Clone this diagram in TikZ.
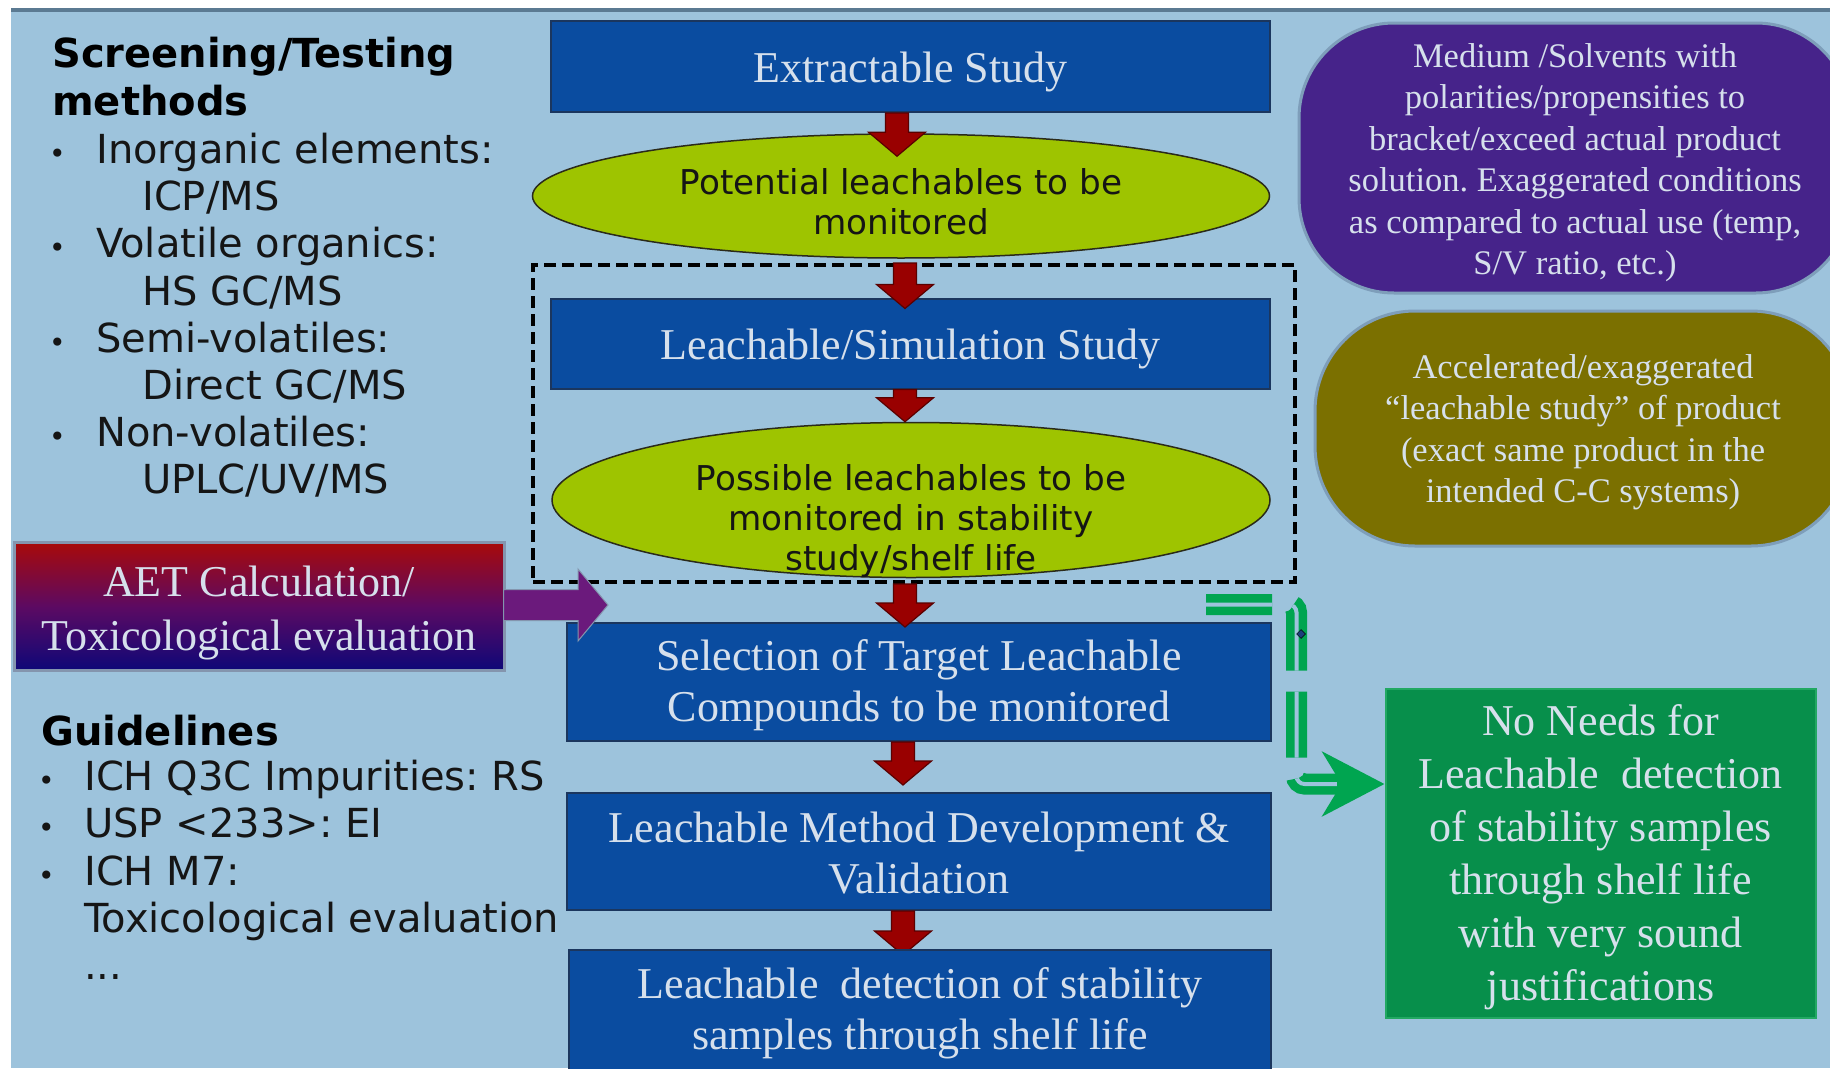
\documentclass[tikz,border=0pt]{standalone}
\usepackage{fontspec}
\usetikzlibrary{shapes.geometric,arrows.meta,calc}
\newfontfamily\serifL{Liberation Serif}
\newfontfamily\sansD{DejaVu Sans}
\definecolor{bg}{HTML}{9DC3DC}
\definecolor{topline}{HTML}{5B7A92}
\definecolor{boxblue}{HTML}{0A4CA0}
\definecolor{boxedge}{HTML}{1B365E}
\definecolor{ellfill}{HTML}{9EC400}
\definecolor{elledge}{HTML}{2A2A1A}
\definecolor{arrred}{HTML}{990000}
\definecolor{arrdark}{HTML}{5A0000}
\definecolor{purpleR}{HTML}{46238A}
\definecolor{oliveR}{HTML}{7B7000}
\definecolor{roundedge}{HTML}{7E9EBA}
\definecolor{greenbox}{HTML}{078F4B}
\definecolor{greenedge}{HTML}{22A862}
\definecolor{gline}{HTML}{00A550}
\definecolor{textlight}{HTML}{D6E0EC}
\definecolor{ink}{HTML}{151515}
\definecolor{aetR}{HTML}{A80A0A}
\definecolor{aetM}{HTML}{5C0A62}
\definecolor{aetB}{HTML}{0E0878}
\definecolor{aetarr}{HTML}{6B1A7C}
\definecolor{aetedge}{HTML}{8495AE}
\definecolor{dotblue}{HTML}{1C3F7A}
\tikzset{
  bluebox/.style={rectangle, fill=boxblue, draw=boxedge, line width=2pt, inner sep=0pt},
  boxtext/.style={inner sep=0pt, text=textlight, align=center, font=\serifL\fontsize{44}{51}\selectfont},
  ellbox/.style={ellipse, fill=ellfill, draw=elledge, line width=1.5pt, inner sep=0pt},
  elltext/.style={inner sep=0pt, align=center, text=ink, font=\sansD\fontsize{34.2}{40}\selectfont},
  roundbox/.style={rectangle, draw=roundedge, line width=3pt, inner sep=0pt},
  roundtext/.style={inner sep=0pt, text=textlight, align=center, font=\serifL\fontsize{34.5}{41.5}\selectfont},
  sanstext/.style={inner sep=0pt, anchor=base west, text=ink, font=\sansD\fontsize{40}{47}\selectfont},
  sansbold/.style={inner sep=0pt, anchor=base west, text=black, font=\sansD\bfseries\fontsize{40}{47}\selectfont},
  redarr/.style={fill=arrred, draw=arrdark, line width=1.2pt},
  purparr/.style={fill=aetarr, draw=aetedge, line width=1pt},
  dashframe/.style={rectangle, draw=black, line width=4pt, dash pattern=on 12pt off 6pt, inner sep=0pt},
  gconn/.style={draw=gline, double=bg, double distance=4pt, line width=8.5pt, dash pattern=on 66pt off 21pt, rounded corners=8pt},
}
\newcommand\varr[2]{\path[redarr] let \p1=(#1), \p2=(#2) in
  (\x1-11.5pt,\y1) -- (\x1+11.5pt,\y1) -- (\x1+11.5pt,\y2+24pt) -- (\x1+28.5pt,\y2+24pt)
  -- (\x1,\y2) -- (\x1-28.5pt,\y2+24pt) -- (\x1-11.5pt,\y2+24pt) -- cycle;}
\newcommand\harr[2]{\path[purparr] let \p1=(#1), \p2=(#2) in
  (\x1,\y2+15.5pt) -- (\x2-30pt,\y2+15.5pt) -- (\x2-30pt,\y2+36pt) -- (\x2,\y2)
  -- (\x2-30pt,\y2-36pt) -- (\x2-30pt,\y2-15.5pt) -- (\x1,\y2-15.5pt) -- cycle;}
\begin{document}
\frenchspacing
\begin{tikzpicture}[x=1pt,y=-1pt]
\useasboundingbox (0,0) rectangle (1830,1068);
\fill[bg] (0,0) rectangle (1830,1068);
\fill[white] (0,0) rectangle (1830,8);
\fill[white] (0,0) rectangle (11,1068);
\fill[topline] (11,8) rectangle (1830,12);

% central flow
\node[bluebox, minimum width=719pt, minimum height=91pt] (box1) at (910.5,66.5) {};
\node[boxtext] (box1t) at ([yshift=-5pt]box1.center) {Extractable Study};
\node[ellbox, minimum width=737pt, minimum height=124pt] (ell1) at (901,196) {};
\node[elltext] (ell1t) at (901,202) {Potential leachables to be\\monitored};
\node[bluebox, minimum width=719pt, minimum height=90pt] (box2) at (910.5,343.5) {};
\node[boxtext] (box2t) at ([yshift=-5pt]box2.center) {Leachable/Simulation Study};
\node[ellbox, minimum width=718pt, minimum height=155pt] (ell2) at (911,500) {};
\node[elltext] (ell2t) at (911,521.5) {Possible leachables to be\\monitored in stability\\study/shelf life};
\node[dashframe, minimum width=762pt, minimum height=317pt] (dbox) at (914,423.5) {};
\node[bluebox, minimum width=704pt, minimum height=118pt] (sel) at (919,682) {};
\node[boxtext] (selt) at (919,685.5) {Selection of Target Leachable\\Compounds to be monitored};
\node[bluebox, minimum width=704pt, minimum height=117pt] (meth) at (919,851.5) {};
\node[boxtext] (metht) at (919,853.5) {Leachable Method Development \&\\Validation};
\coordinate (detn) at (920,949);
\varr{[xshift=-16pt]meth.south}{[yshift=-6pt]detn}
\node[bluebox, minimum width=702pt, minimum height=140pt, anchor=north] (det) at (detn) {};
\node[boxtext] (dett) at (920,1013.5) {Leachable~ detection of stability\\samples through shelf life};

\varr{[xshift=-13.5pt]box1.south}{[yshift=-23pt]ell1.north}
\varr{[xshift=-9pt]dbox.north}{[yshift=-11pt]box2.north}
\varr{[xshift=-5.5pt]box2.south}{ell2.north}
\varr{[xshift=-9pt]dbox.south}{[yshift=-5pt]sel.north}
\varr{[xshift=-16pt]sel.south}{[yshift=7pt]meth.north}

% AET box and arrow
\node[rectangle, top color=aetR, bottom color=aetB, middle color=aetM, draw=aetedge, line width=3pt,
  minimum width=490pt, minimum height=128pt, inner sep=0pt] (aet) at (259,606.5) {};
\node[boxtext, font=\serifL\fontsize{44}{54}\selectfont] (aett) at (259,612.5) {AET Calculation/\\Toxicological evaluation};
\coordinate (aettip) at (608,605);
\harr{[xshift=-2pt]aet.east}{aettip}

% right side
\node[roundbox, fill=purpleR, rounded corners=95pt, minimum width=552pt, minimum height=270pt] (prp) at (1575,158) {};
\node[roundtext] (prpt) at (1575,162.5)
  {Medium /Solvents with\\polarities/propensities to\\bracket/exceed actual product\\solution. Exaggerated conditions\\as compared to actual use (temp,\\S/V ratio, etc.)};
\node[roundbox, fill=oliveR, rounded corners=100pt, minimum width=536pt, minimum height=235pt] (olv) at (1583,428.5) {};
\node[roundtext] (olvt) at (1583,432)
  {Accelerated/exaggerated\\“leachable study” of product\\(exact same product in the\\intended C-C systems)};
\node[rectangle, fill=greenbox, draw=greenedge, line width=2pt, inner sep=0pt, minimum width=430pt, minimum height=329pt] (grn) at (1600.5,853.5) {};
\node[boxtext, font=\serifL\fontsize{44}{53}\selectfont] (grnt) at (1600.5,857)
  {No Needs for\\Leachable~ detection\\of stability samples\\through shelf life\\with very sound\\justifications};
\coordinate (gstart) at (1206,604.5);
\coordinate (gend) at ([yshift=69.5pt]grn.west);
\draw[gconn] (gstart) -- ++(90.5,0) |- ([xshift=-44pt]gend);
\draw[draw=gline, line width=16pt, -{Stealth[length=62pt, width=64pt, inset=19pt]}] ([xshift=-48pt]gend) -- (gend);
\node[diamond, fill=dotblue, draw=black, line width=0.5pt, inner sep=0pt, minimum size=9pt] (gdot) at (1301,634) {};

% left text
\node[sansbold] (t1) at (52,67) {Screening/Testing};
\node[sansbold] (t2) at (52,115.3) {methods};
\node[sanstext] (s1) at (49,163.5) {\makebox[47pt][l]{\fontsize{28}{28}\selectfont •}Inorganic elements:};
\node[sanstext] (s2) at (142,210.7) {ICP/MS};
\node[sanstext] (s3) at (49,257.8) {\makebox[47pt][l]{\fontsize{28}{28}\selectfont •}Volatile organics:};
\node[sanstext] (s4) at (142,305) {HS GC/MS};
\node[sanstext] (s5) at (49,352.2) {\makebox[47pt][l]{\fontsize{28}{28}\selectfont •}Semi-volatiles:};
\node[sanstext] (s6) at (142,399.4) {Direct GC/MS};
\node[sanstext] (s7) at (49,446.5) {\makebox[47pt][l]{\fontsize{28}{28}\selectfont •}Non-volatiles:};
\node[sanstext] (s8) at (142,493.7) {UPLC/UV/MS};

\node[sansbold] (gh) at (41,745.5) {Guidelines};
\node[sanstext] (g1) at (38,790) {\makebox[46pt][l]{\fontsize{28}{28}\selectfont •}ICH Q3C Impurities: RS};
\node[sanstext] (g2) at (38,837) {\makebox[46pt][l]{\fontsize{28}{28}\selectfont •}USP <233>: EI};
\node[sanstext] (g3) at (38,885) {\makebox[46pt][l]{\fontsize{28}{28}\selectfont •}ICH M7:};
\node[sanstext] (g4) at (84,932) {Toxicological evaluation};
\node[sanstext] (g5) at (84,979) {...};
\end{tikzpicture}
\end{document}
